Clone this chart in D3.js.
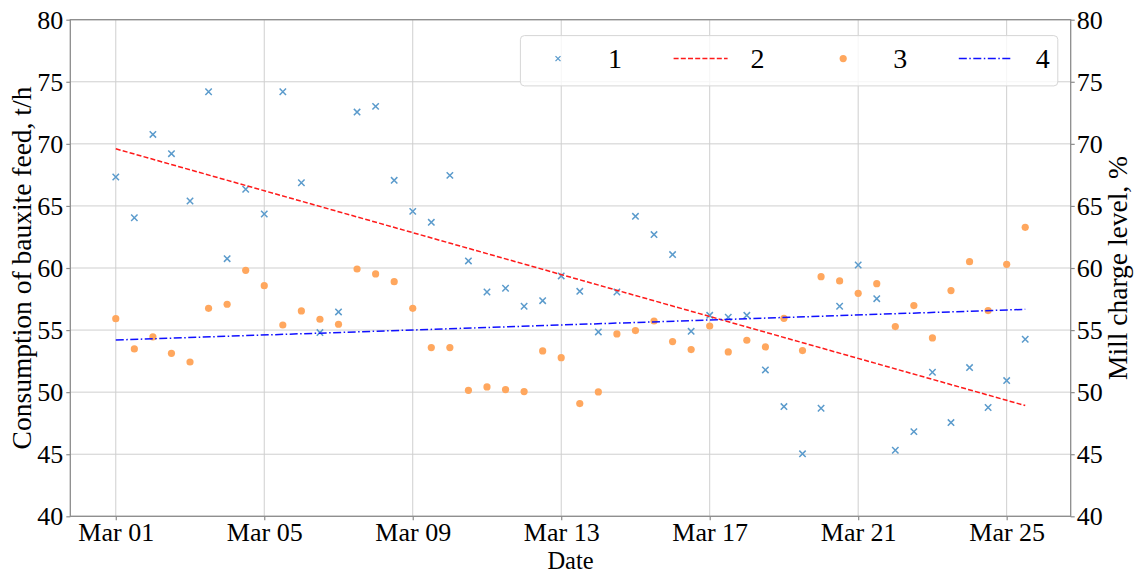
<!DOCTYPE html>
<html>
<head>
<meta charset="utf-8">
<script src="https://cdn.jsdelivr.net/npm/d3@7"></script>
<style>
  html, body { margin: 0; padding: 0; background: #fff; }
  svg { display: block; font-family: "Liberation Serif", "Times New Roman", serif; }
</style>
</head>
<body>
<svg id="chart" width="1137" height="574"></svg>
<script>
// ---------------- data ----------------
const startDate = "2023-03-01T00:00:00Z";
const stepHours = 12;

// Series 1: consumption of bauxite feed, t/h (left axis)
const series1 = [
  67.33, 64.05, 70.76, 69.21, 65.40, 74.20, 60.75, 66.34, 64.35, 74.20,
  66.87, 54.80, 56.46, 72.56, 73.02, 67.06, 64.56, 63.68, 67.46, 60.57,
  58.07, 58.37, 56.92, 57.37, 59.36, 58.12, 54.85, 58.07, 64.16, 62.69,
  61.08, 54.90, 56.19, 56.03, 56.19, 51.79, 48.84, 45.03, 48.70, 56.92,
  60.24, 57.53, 45.32, 46.82, 51.60, 47.55, 51.98, 48.76, 50.93, 54.26
];
// Series 3: mill charge level, % (right axis)
const series3 = [
  55.92, 53.48, 54.45, 53.13, 52.43, 56.75, 57.08, 59.81, 58.58, 55.41,
  56.54, 55.87, 55.47, 59.92, 59.52, 58.90, 56.75, 53.59, 53.59, 50.15,
  50.42, 50.21, 50.05, 53.32, 52.78, 49.08, 50.02, 54.69, 54.96, 55.73,
  54.07, 53.43, 55.33, 53.24, 54.18, 53.64, 55.95, 53.35, 59.30, 58.96,
  57.96, 58.74, 55.28, 56.97, 54.37, 58.18, 60.51, 56.57, 60.30, 63.28
];
// Trend lines (values at first and last timestamp)
const trend2 = [69.60, 48.92];   // trend of series 1, left axis
const trend4 = [54.20, 56.67];   // trend of series 3, right axis

const yTicks = [40, 45, 50, 55, 60, 65, 70, 75, 80];
const legendLabels = ["1", "2", "3", "4"];
const xLabel = "Date";
const yLabelLeft = "Consumption of bauxite feed, t/h";
const yLabelRight = "Mill charge level, %";

// ---------------- setup ----------------
const t0 = new Date(startDate);
const dates = series1.map((_, i) => d3.utcHour.offset(t0, i * stepHours));

const W = 1137, H = 574;
const plot = { left: 70.3, right: 1070.7, top: 19.7, bottom: 516.3 };
const FS = 26;
const LFS = 27.5;

const svg = d3.select("#chart");

const tMin = dates[0], tMax = dates[dates.length - 1];
const pad = (tMax - tMin) * 0.05;
const x = d3.scaleUtc()
  .domain([new Date(+tMin - pad), new Date(+tMax + pad)])
  .range([plot.left, plot.right]);
const yL = d3.scaleLinear().domain([40, 80]).range([plot.bottom, plot.top]);
const yR = d3.scaleLinear().domain([40, 80]).range([plot.bottom, plot.top]);

const xTicks = d3.utcDay.every(4).range(d3.utcDay.floor(tMin), d3.utcDay.offset(tMax, 1));
const fmt = d3.utcFormat("%b %d");

// ---------------- grid ----------------
const grid = svg.append("g").attr("class", "grid");
grid.selectAll("line.v").data(xTicks).join("line")
  .attr("x1", d => x(d)).attr("x2", d => x(d))
  .attr("y1", plot.top).attr("y2", plot.bottom)
  .attr("stroke", "#cfcfcf").attr("stroke-width", 1);
grid.selectAll("line.h").data(yTicks).join("line")
  .attr("x1", plot.left).attr("x2", plot.right)
  .attr("y1", d => yL(d)).attr("y2", d => yL(d))
  .attr("stroke", "#cfcfcf").attr("stroke-width", 1);

// ---------------- series ----------------
const xMark = "M-3.2,-3.2L3.2,3.2M-3.2,3.2L3.2,-3.2";
svg.append("g").selectAll("path").data(series1).join("path")
  .attr("d", xMark)
  .attr("transform", (d, i) => `translate(${x(dates[i])},${yL(d)})`)
  .attr("fill", "none").attr("stroke", "#5b9bcc").attr("stroke-width", 1.5);

svg.append("g").selectAll("circle").data(series3).join("circle")
  .attr("cx", (d, i) => x(dates[i])).attr("cy", d => yR(d))
  .attr("r", 3.6).attr("fill", "#ffa75e");

const trendDates = [tMin, tMax];
svg.append("path")
  .attr("d", d3.line().x((d, i) => x(trendDates[i])).y(d => yL(d))(trend2))
  .attr("fill", "none").attr("stroke", "#ff1a1a").attr("stroke-width", 1.5)
  .attr("stroke-dasharray", "5,2.2");
svg.append("path")
  .attr("d", d3.line().x((d, i) => x(trendDates[i])).y(d => yR(d))(trend4))
  .attr("fill", "none").attr("stroke", "#1010ff").attr("stroke-width", 1.5)
  .attr("stroke-dasharray", "8,2.5,1.5,2.5");

// ---------------- axes ----------------
const axisColor = "#8c8c8c";
function styleAxis(g) {
  g.select(".domain").remove();
  g.selectAll(".tick line").attr("stroke", axisColor).attr("stroke-width", 1.2);
  g.selectAll(".tick text").attr("fill", "#000").style("font-size", FS + "px")
    .style("font-family", '"Liberation Serif", "Times New Roman", serif');
}
svg.append("g").attr("transform", `translate(0,${plot.bottom})`)
  .call(d3.axisBottom(x).tickValues(xTicks).tickFormat(fmt).tickSize(4).tickPadding(2.5))
  .call(styleAxis);
svg.append("g").attr("transform", `translate(${plot.left},0)`)
  .call(d3.axisLeft(yL).tickValues(yTicks).tickFormat(d3.format("d")).tickSize(4).tickPadding(3))
  .call(styleAxis);
svg.append("g").attr("transform", `translate(${plot.right},0)`)
  .call(d3.axisRight(yR).tickValues(yTicks).tickFormat(d3.format("d")).tickSize(4).tickPadding(2))
  .call(styleAxis);

svg.append("rect")
  .attr("x", plot.left).attr("y", plot.top)
  .attr("width", plot.right - plot.left).attr("height", plot.bottom - plot.top)
  .attr("fill", "none").attr("stroke", axisColor).attr("stroke-width", 1.3);

// ---------------- labels ----------------
svg.append("text").attr("x", (plot.left + plot.right) / 2).attr("y", 568.5)
  .attr("text-anchor", "middle").style("font-size", "24.5px").text(xLabel);
svg.append("text")
  .attr("transform", `translate(31,${(plot.top + plot.bottom) / 2}) rotate(-90)`)
  .attr("text-anchor", "middle").style("font-size", LFS + "px").text(yLabelLeft);
svg.append("text")
  .attr("transform", `translate(1127,${(plot.top + plot.bottom) / 2}) rotate(-90)`)
  .attr("text-anchor", "middle").style("font-size", LFS + "px").text(yLabelRight);

// ---------------- legend ----------------
const lg = { x: 520.4, y: 35.6, w: 537.4, h: 50.3 };
const legend = svg.append("g");
legend.append("rect")
  .attr("x", lg.x).attr("y", lg.y).attr("width", lg.w).attr("height", lg.h)
  .attr("rx", 4).attr("fill", "#fff").attr("fill-opacity", 0.8)
  .attr("stroke", "#d6d6d6").attr("stroke-width", 1);
const colW = 142.6, handleX0 = 10.6, handleLen = 54, textGap = 23;
const cy = lg.y + 23;
legendLabels.forEach((lab, i) => {
  const hx = lg.x + handleX0 + i * colW;
  const g = legend.append("g");
  if (i === 0) {
    g.append("path").attr("d", "M-2.5,-2.5L2.5,2.5M-2.5,2.5L2.5,-2.5")
      .attr("transform", `translate(${hx + handleLen / 2},${cy})`)
      .attr("fill", "none").attr("stroke", "#5b9bcc").attr("stroke-width", 1.3);
  } else if (i === 2) {
    g.append("circle").attr("cx", hx + handleLen / 2).attr("cy", cy).attr("r", 3.6)
      .attr("fill", "#ffa75e");
  } else {
    g.append("line").attr("x1", hx).attr("x2", hx + handleLen).attr("y1", cy).attr("y2", cy)
      .attr("stroke", i === 1 ? "#ff1a1a" : "#1010ff").attr("stroke-width", 1.5)
      .attr("stroke-dasharray", i === 1 ? "5,2.2" : "8,2.5,1.5,2.5");
  }
  g.append("text").attr("x", hx + handleLen + textGap).attr("y", cy + 9)
    .style("font-size", "28px").text(lab);
});
</script>
</body>
</html>
